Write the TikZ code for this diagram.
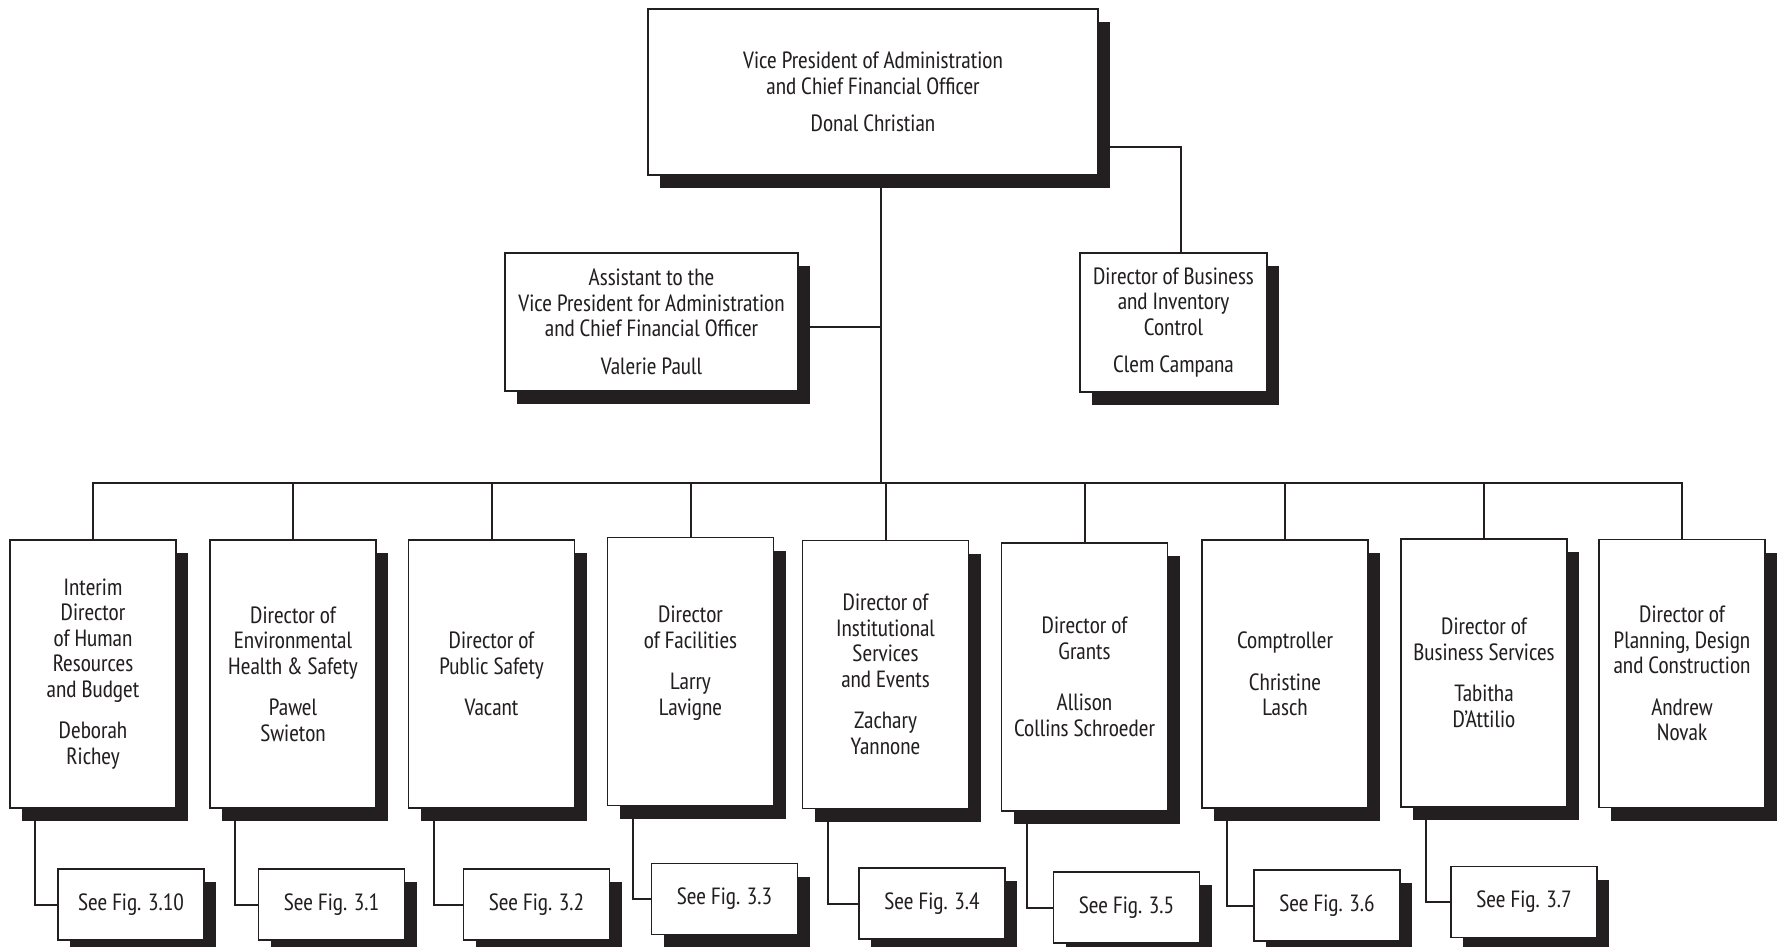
\documentclass[tikz,border=0pt]{standalone}
\usepackage{fontspec}
\setmainfont{PT Sans Narrow}
\usetikzlibrary{shadows}
\definecolor{ink}{HTML}{231F20}
\tikzset{
  post/.style   = {draw=ink, fill=white, line width=1.6pt, align=center, inner sep=0pt,
                   drop shadow={shadow xshift=12pt, shadow yshift=-13pt, fill=ink, opacity=1}},
  unit/.style   = {post, minimum width=166pt, minimum height=268pt},
  seefig/.style = {post, minimum width=146pt, minimum height=71pt},
  link/.style   = {draw=ink, line width=2pt},
}

\begin{document}
\begin{tikzpicture}[x=1pt,y=-1pt,font=\fontsize{23.5}{25.5}\selectfont,text=ink]
  \useasboundingbox (0,0) rectangle (1783,947);
  % upper level
  \node[post, minimum width=450pt, minimum height=166pt] (vp) at (873,92)
    {Vice President of Administration\\and Chief Financial Officer\\[12pt]Donal Christian};
  \node[post, minimum width=293pt, minimum height=138pt] (asst) at (651.5,322)
    {Assistant to the\\Vice President for Administration\\and Chief Financial Officer\\[12pt]Valerie Paull};
  \node[post, minimum width=187pt, minimum height=139pt] (bic) at (1173.5,322.5)
    {Director of Business\\and Inventory\\Control\\[12pt]Clem Campana};
  % directors
  \node[unit] (hr)   at (93,674)     {Interim\\Director\\of Human\\Resources\\and Budget\\[16pt]Deborah\\Richey};
  \node[unit] (ehs)  at (293,674)    {Director of\\Environmental\\Health \& Safety\\[16pt]Pawel\\Swieton};
  \node[unit] (ps)   at (491.5,674)  {Director of\\Public Safety\\[16pt]Vacant};
  \node[unit] (fac)  at (690.5,671.5){Director\\of Facilities\\[16pt]Larry\\Lavigne\\[-4pt]};
  \node[unit] (ise)  at (885.5,674.5){Director of\\Institutional\\Services\\and Events\\[16pt]Zachary\\Yannone};
  \node[unit] (gr)   at (1084.5,677) {Director of\\Grants\\[26pt]Allison\\Collins Schroeder};
  \node[unit] (comp) at (1285,674)   {Comptroller\\[16pt]Christine\\Lasch};
  \node[unit] (bs)   at (1484,673)   {Director of\\Business Services\\[16pt]Tabitha\\D’Attilio};
  \node[unit] (pdc)  at (1682,673.5) {Director of\\Planning, Design\\and Construction\\[16pt]Andrew\\Novak};
  % references
  \node[seefig] (f310) at (131,904.5)  {See Fig. 3.10};
  \node[seefig] (f31)  at (331.5,904.5){See Fig. 3.1};
  \node[seefig] (f32)  at (536.5,904.5){See Fig. 3.2};
  \node[seefig] (f33)  at (724.5,899)  {See Fig. 3.3};
  \node[seefig] (f34)  at (932,903.5)  {See Fig. 3.4};
  \node[seefig] (f35)  at (1126.5,907.5){See Fig. 3.5};
  \node[seefig] (f36)  at (1327,905.5) {See Fig. 3.6};
  \node[seefig] (f37)  at (1524,902)   {See Fig. 3.7};
  % connectors
  \coordinate (barlevel) at (0,483);
  \coordinate (spine) at ([xshift=8pt]vp.south);
  \coordinate (bar) at (spine |- barlevel);
  \draw[link] (spine) -- (bar);
  \draw[link] ([yshift=-5pt]asst.east) -- ([yshift=-5pt]asst.east -| spine);
  \draw[link] ([yshift=-55pt]vp.east) -| ([xshift=7pt]bic.north);
  \foreach \d in {hr,ehs,ps,fac,ise,gr,comp,bs,pdc}
    \draw[link] (bar) -| (\d.north);
  \foreach \d/\f in {hr/f310,ehs/f31,ps/f32,fac/f33,ise/f34,gr/f35,comp/f36,bs/f37}
    \draw[link] ([xshift=26pt]\d.south west) |- (\f);
\end{tikzpicture}
\end{document}
